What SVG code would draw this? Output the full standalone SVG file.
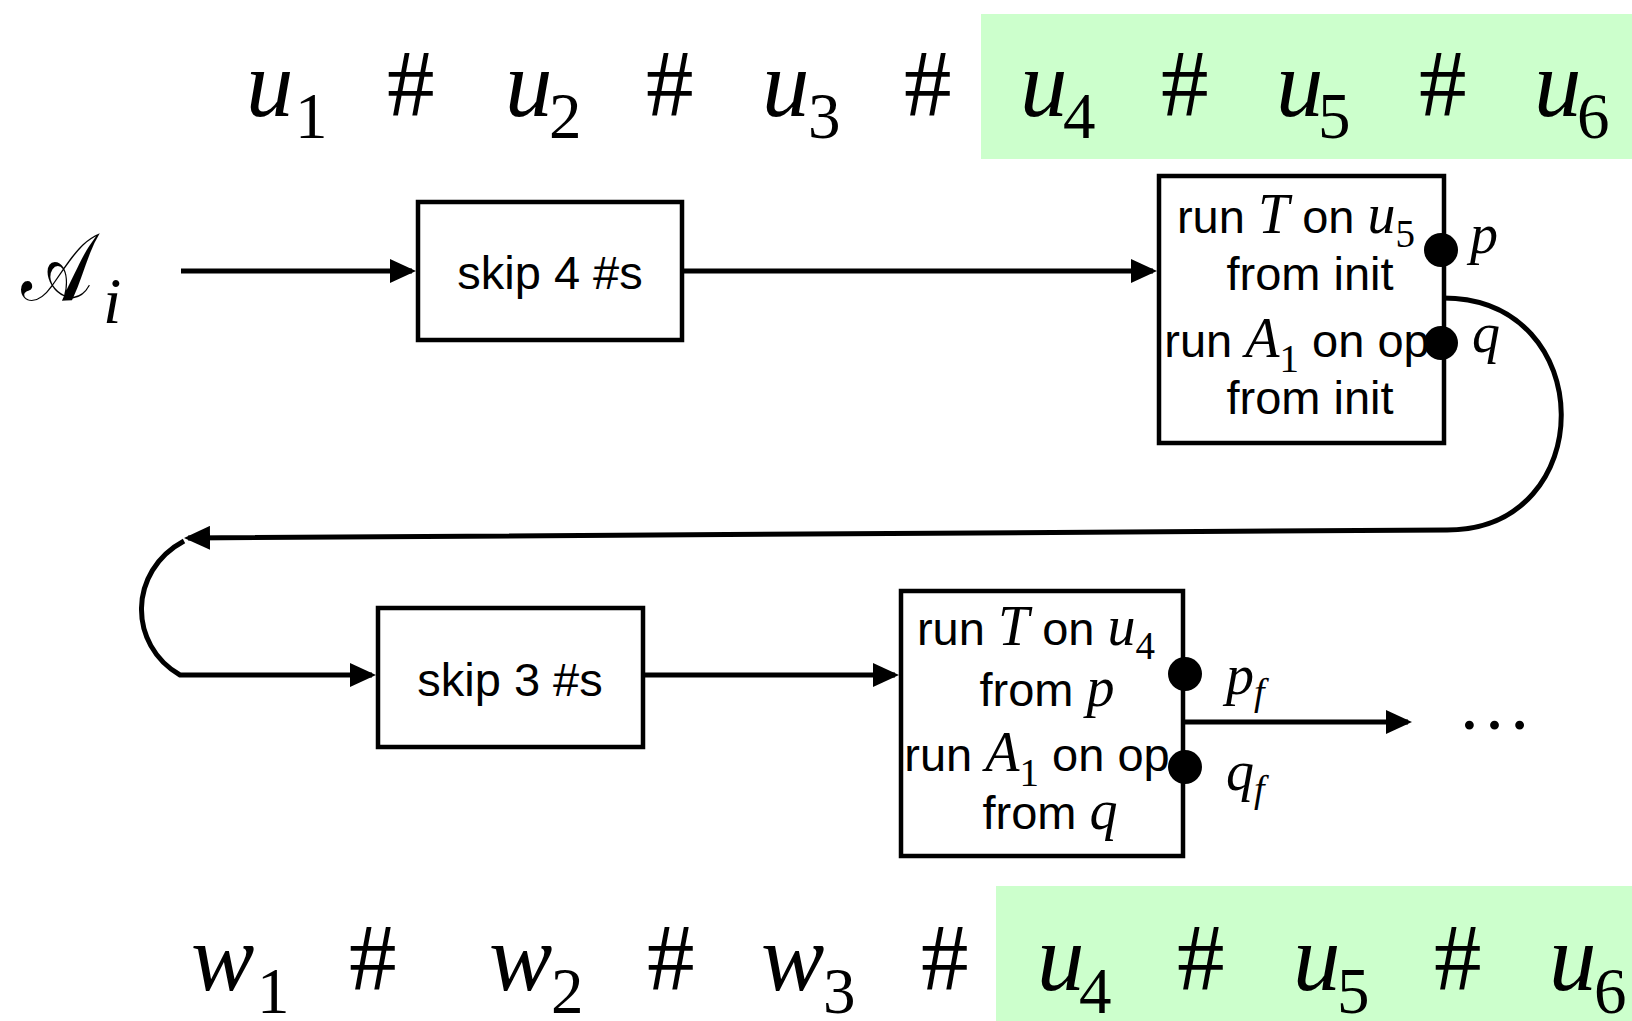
<svg xmlns="http://www.w3.org/2000/svg" width="1632" height="1021" viewBox="0 0 1632 1021">
<style>
 .bg{fill:#ccffcc}
 .str{font-family:"Liberation Serif","Times New Roman",serif;font-size:95px;fill:#000}
 .mi{font-style:italic}
 .sub{font-size:65px;font-style:normal}
 .box{fill:#fff;stroke:#000;stroke-width:4.5}
 .lbl{font-family:"Liberation Sans",Arial,sans-serif;font-size:47px;fill:#000}
 .m{font-family:"Liberation Serif","Times New Roman",serif;font-style:italic;font-size:56px}
 .ms{font-family:"Liberation Serif","Times New Roman",serif;font-style:normal;font-size:39px}
 .mf{font-family:"Liberation Serif","Times New Roman",serif;font-style:italic;font-size:38px}
 .conn{fill:none;stroke:#000;stroke-width:5}
 .dot{fill:#000}
</style>
<defs>
 <marker id="ah" markerUnits="userSpaceOnUse" markerWidth="26" markerHeight="24" refX="22" refY="12" orient="auto">
  <path d="M0,0L26,12L0,24z" fill="#000"/>
 </marker>
</defs>

<g id="top-string">
 <rect class="bg" x="981" y="14" width="651" height="145"/>
 <text class="str" y="116"><tspan class="mi" x="246">u</tspan><tspan class="sub" x="295" y="138">1</tspan><tspan x="387" y="116">#</tspan><tspan class="mi" x="505">u</tspan><tspan class="sub" x="549" y="138">2</tspan><tspan x="646" y="116">#</tspan><tspan class="mi" x="762">u</tspan><tspan class="sub" x="808" y="138">3</tspan><tspan x="904" y="116">#</tspan><tspan class="mi" x="1020">u</tspan><tspan class="sub" x="1063" y="138">4</tspan><tspan x="1161" y="116">#</tspan><tspan class="mi" x="1276">u</tspan><tspan class="sub" x="1318" y="138">5</tspan><tspan x="1419" y="116">#</tspan><tspan class="mi" x="1534">u</tspan><tspan class="sub" x="1577" y="138">6</tspan></text>
</g>

<g id="bottom-string">
 <rect class="bg" x="996" y="886" width="636" height="135"/>
 <text class="str" y="990"><tspan class="mi" x="191">w</tspan><tspan class="sub" x="257" y="1013">1</tspan><tspan x="349" y="990">#</tspan><tspan class="mi" x="489">w</tspan><tspan class="sub" x="551" y="1013">2</tspan><tspan x="647" y="990">#</tspan><tspan class="mi" x="761">w</tspan><tspan class="sub" x="823" y="1013">3</tspan><tspan x="921" y="990">#</tspan><tspan class="mi" x="1037">u</tspan><tspan class="sub" x="1079" y="1013">4</tspan><tspan x="1177" y="990">#</tspan><tspan class="mi" x="1293">u</tspan><tspan class="sub" x="1337" y="1013">5</tspan><tspan x="1434" y="990">#</tspan><tspan class="mi" x="1549">u</tspan><tspan class="sub" x="1594" y="1013">6</tspan></text>
</g>

<g id="Ai">
 <text transform="translate(21,300) scale(0.8,1)" font-family="Liberation Serif, DejaVu Serif, serif" font-size="95">𝒜</text>
 <text x="103" y="323" font-family="Liberation Serif, serif" font-style="italic" font-size="66">i</text>
</g>

<g id="connectors">
 <path class="conn" d="M181,271L412,271" marker-end="url(#ah)"/>
 <path class="conn" d="M684,271L1153,271" marker-end="url(#ah)"/>
 <path class="conn" d="M1443,298C1600,298 1600,530 1447,530L188,538" marker-end="url(#ah)"/>
 <path class="conn" d="M184,541C128,571 128,645 180,675L372,675" marker-end="url(#ah)"/>
 <path class="conn" d="M645,675L895,675" marker-end="url(#ah)"/>
 <path class="conn" d="M1185,722L1408,722" marker-end="url(#ah)"/>
</g>

<g id="skip4">
 <rect class="box" x="418" y="202" width="264" height="138"/>
 <text class="lbl" x="550" y="289" text-anchor="middle">skip 4 #s</text>
</g>

<g id="run1">
 <rect class="box" x="1159" y="176" width="285" height="267"/>
 <text class="lbl" x="1296" y="233" text-anchor="middle">run <tspan class="m">T</tspan> on <tspan class="m">u</tspan><tspan class="ms" dy="14">5</tspan></text>
 <text class="lbl" x="1310" y="290" text-anchor="middle">from init</text>
 <text class="lbl" x="1297" y="357" text-anchor="middle">run <tspan class="m">A</tspan><tspan class="ms" dy="15">1</tspan><tspan dy="-15"> on op</tspan></text>
 <text class="lbl" x="1310" y="414" text-anchor="middle">from init</text>
 <circle class="dot" cx="1441" cy="250" r="17"/>
 <circle class="dot" cx="1441" cy="343" r="17"/>
 <text class="m" x="1470" y="253">p</text>
 <text class="m" x="1472" y="352">q</text>
</g>

<g id="skip3">
 <rect class="box" x="378" y="608" width="265" height="139"/>
 <text class="lbl" x="510" y="696" text-anchor="middle">skip 3 #s</text>
</g>

<g id="run2">
 <rect class="box" x="901" y="591" width="282" height="265"/>
 <text class="lbl" x="1036" y="645" text-anchor="middle">run <tspan class="m">T</tspan> on <tspan class="m">u</tspan><tspan class="ms" dy="14">4</tspan></text>
 <text class="lbl" x="1047" y="706" text-anchor="middle">from <tspan class="m">p</tspan></text>
 <text class="lbl" x="1037" y="771" text-anchor="middle">run <tspan class="m">A</tspan><tspan class="ms" dy="15">1</tspan><tspan dy="-15"> on op</tspan></text>
 <text class="lbl" x="1050" y="829" text-anchor="middle">from <tspan class="m">q</tspan></text>
 <circle class="dot" cx="1185" cy="674" r="17"/>
 <circle class="dot" cx="1185" cy="767" r="17"/>
 <text class="m" x="1226" y="694">p<tspan class="mf" dy="11">f</tspan></text>
 <text class="m" x="1226" y="790">q<tspan class="mf" dy="12">f</tspan></text>
</g>

<g id="ellipsis">
 <text x="1457" y="729" font-family="Liberation Serif, serif" font-size="75">…</text>
</g>
</svg>
